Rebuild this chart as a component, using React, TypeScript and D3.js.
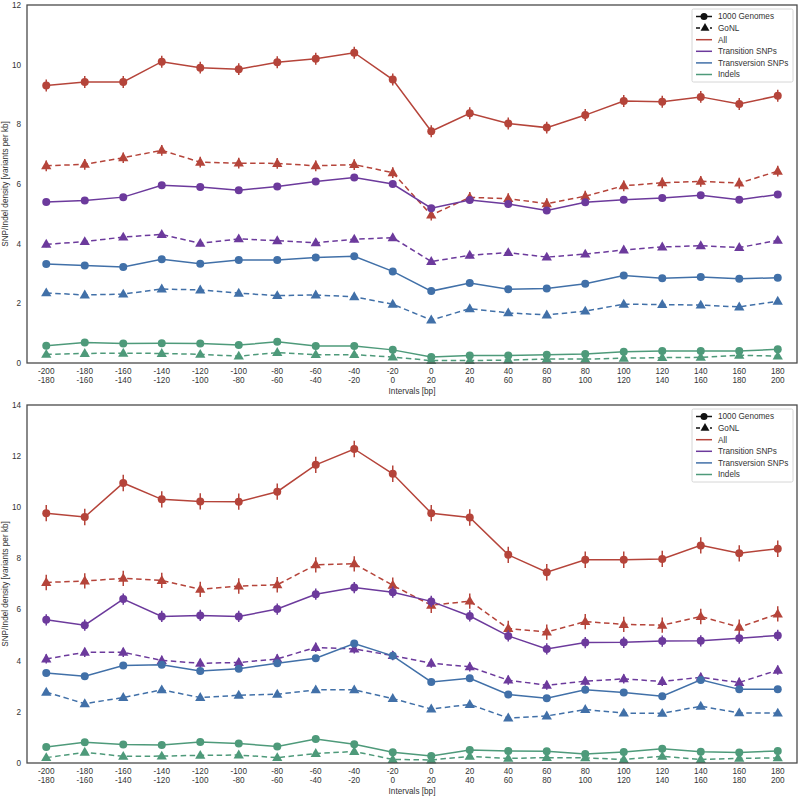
import React from "react";
import * as d3 from "d3";

const intervalStarts = [-200, -180, -160, -140, -120, -100, -80, -60, -40, -20, 0, 20, 40, 60, 80, 100, 120, 140, 160, 180];
const tickLine1 = intervalStarts.map(String);
const tickLine2 = intervalStarts.map((s) => String(s + 20));

const seriesNames = ["All", "Transition SNPs", "Transversion SNPs", "Indels"];
const seriesColors = ["#b5443a", "#6c3a9c", "#4170a8", "#4e9a7a"];

// Top panel
const topAll1kg = [9.3, 9.42, 9.42, 10.1, 9.9, 9.85, 10.08, 10.2, 10.4, 9.5, 7.77, 8.37, 8.03, 7.89, 8.31, 8.78, 8.76, 8.92, 8.68, 8.96];
const topAllGonl = [6.61, 6.66, 6.88, 7.13, 6.73, 6.7, 6.69, 6.61, 6.65, 6.38, 4.96, 5.55, 5.51, 5.34, 5.59, 5.94, 6.04, 6.09, 6.03, 6.43];
const topTs1kg = [5.4, 5.45, 5.56, 5.96, 5.9, 5.79, 5.92, 6.08, 6.22, 6.0, 5.19, 5.46, 5.33, 5.11, 5.39, 5.47, 5.53, 5.62, 5.47, 5.65];
const topTsGonl = [3.98, 4.07, 4.22, 4.31, 4.01, 4.16, 4.1, 4.03, 4.15, 4.2, 3.4, 3.61, 3.7, 3.55, 3.65, 3.79, 3.89, 3.93, 3.87, 4.11];
const topTv1kg = [3.32, 3.27, 3.22, 3.48, 3.33, 3.45, 3.45, 3.54, 3.58, 3.07, 2.41, 2.68, 2.47, 2.5, 2.66, 2.93, 2.84, 2.88, 2.82, 2.86];
const topTvGonl = [2.35, 2.28, 2.31, 2.48, 2.45, 2.34, 2.26, 2.28, 2.22, 1.97, 1.44, 1.82, 1.68, 1.61, 1.74, 1.97, 1.96, 1.94, 1.88, 2.07];
const topIndel1kg = [0.58, 0.69, 0.65, 0.66, 0.65, 0.6, 0.71, 0.57, 0.57, 0.44, 0.2, 0.25, 0.25, 0.28, 0.3, 0.38, 0.4, 0.4, 0.4, 0.46];
const topIndelGonl = [0.29, 0.32, 0.33, 0.32, 0.29, 0.23, 0.35, 0.28, 0.28, 0.2, 0.08, 0.08, 0.1, 0.13, 0.13, 0.16, 0.18, 0.19, 0.26, 0.23];
const topErr1kg = [0.2, 0.1, 0.07, 0.04];
const topErrGonl = [0.18, 0.1, 0.07, 0.04];

// Bottom panel
const botAll1kg = [9.77, 9.62, 10.95, 10.31, 10.23, 10.22, 10.61, 11.66, 12.28, 11.31, 9.77, 9.6, 8.14, 7.46, 7.95, 7.95, 7.98, 8.51, 8.2, 8.38];
const botAllGonl = [7.06, 7.12, 7.22, 7.14, 6.79, 6.92, 6.97, 7.75, 7.79, 6.95, 6.17, 6.33, 5.26, 5.12, 5.53, 5.42, 5.39, 5.73, 5.31, 5.83];
const botTs1kg = [5.6, 5.39, 6.41, 5.73, 5.77, 5.73, 6.02, 6.6, 6.86, 6.68, 6.32, 5.75, 4.97, 4.46, 4.71, 4.72, 4.77, 4.78, 4.88, 4.99];
const botTsGonl = [4.07, 4.33, 4.33, 4.01, 3.9, 3.93, 4.07, 4.52, 4.46, 4.2, 3.9, 3.76, 3.24, 3.04, 3.2, 3.29, 3.19, 3.35, 3.15, 3.63];
const botTv1kg = [3.52, 3.39, 3.81, 3.84, 3.6, 3.69, 3.9, 4.1, 4.67, 4.19, 3.17, 3.31, 2.68, 2.53, 2.86, 2.76, 2.61, 3.25, 2.88, 2.88];
const botTvGonl = [2.77, 2.32, 2.56, 2.86, 2.56, 2.65, 2.69, 2.86, 2.86, 2.52, 2.11, 2.29, 1.76, 1.84, 2.09, 1.95, 1.94, 2.22, 1.96, 1.95];
const botIndel1kg = [0.63, 0.81, 0.72, 0.7, 0.82, 0.76, 0.65, 0.94, 0.73, 0.42, 0.27, 0.51, 0.47, 0.46, 0.35, 0.43, 0.56, 0.44, 0.41, 0.47];
const botIndelGonl = [0.21, 0.42, 0.26, 0.27, 0.3, 0.31, 0.21, 0.37, 0.45, 0.14, 0.12, 0.26, 0.18, 0.21, 0.2, 0.14, 0.26, 0.14, 0.18, 0.2];
const botErr1kg = [0.32, 0.22, 0.12, 0.06];
const botErrGonl = [0.3, 0.18, 0.1, 0.05];

const topYTicks = [0, 2, 4, 6, 8, 10, 12];
const botYTicks = [0, 2, 4, 6, 8, 10, 12, 14];

const FONT = "'Liberation Sans', Arial, sans-serif";
const TEXT_COLOR = "#333";
const FS = 8.2;

type PanelProps = {
  top: number;
  bottom: number;
  yMax: number;
  yTicks: number[];
  kg: number[][];
  gonl: number[][];
  err1: number[];
  err2: number[];
};

const LEFT = 27;
const RIGHT = 797;

function Panel({ top, bottom, yMax, yTicks, kg, gonl, err1, err2 }: PanelProps) {
  const x = d3.scalePoint<number>().domain(intervalStarts.map((_, i) => i)).range([LEFT, RIGHT]).padding(0.5);
  const y = d3.scaleLinear().domain([0, yMax]).range([bottom, top]);
  const line = d3
    .line<number>()
    .x((_, i) => x(i) as number)
    .y((d) => y(d));
  const tri = d3.symbol(d3.symbolTriangle, 46)() as string;

  const renderSeries = (vals: number[], ci: number, dashed: boolean, err: number) => {
    const c = seriesColors[ci];
    return (
      <g key={`${ci}-${dashed}`}>
        <path d={line(vals) as string} fill="none" stroke={c} strokeWidth={1.5} strokeDasharray={dashed ? "5.5,3.5" : undefined} />
        {vals.map((v, i) => (
          <line key={`e${i}`} x1={x(i)} x2={x(i)} y1={y(v - err)} y2={y(v + err)} stroke={c} strokeWidth={1.5} />
        ))}
        {vals.map((v, i) =>
          dashed ? (
            <path key={`m${i}`} d={tri} transform={`translate(${x(i)},${y(v) + 0.5})`} fill={c} />
          ) : (
            <circle key={`m${i}`} cx={x(i)} cy={y(v)} r={4} fill={c} />
          )
        )}
      </g>
    );
  };

  const legendItems = ["1000 Genomes", "GoNL", ...seriesNames];
  const lx = 692;
  const ly = top + 4;

  return (
    <g>
      {yTicks.map((t) => (
        <text key={t} x={21} y={y(t)} dy="0.35em" textAnchor="end" fontSize={FS} fill={TEXT_COLOR} fontFamily={FONT}>
          {t}
        </text>
      ))}
      <text
        transform={`translate(8,${(top + bottom) / 2}) rotate(-90)`}
        textAnchor="middle"
        fontSize={FS}
        fill={TEXT_COLOR}
        fontFamily={FONT}
      >
        SNP/Indel density [variants per kb]
      </text>
      {intervalStarts.map((_, i) => (
        <g key={i}>
          <text x={x(i)} y={bottom + 10.8} textAnchor="middle" fontSize={FS} fill={TEXT_COLOR} fontFamily={FONT}>
            {tickLine1[i]}
          </text>
          <text x={x(i)} y={bottom + 20} textAnchor="middle" fontSize={FS} fill={TEXT_COLOR} fontFamily={FONT}>
            {tickLine2[i]}
          </text>
        </g>
      ))}
      <text x={(LEFT + RIGHT) / 2} y={bottom + 30.5} textAnchor="middle" fontSize={FS} fill={TEXT_COLOR} fontFamily={FONT}>
        Intervals [bp]
      </text>
      {kg.map((vals, ci) => (
        <g key={ci}>
          {renderSeries(vals, ci, false, err1[ci])}
          {renderSeries(gonl[ci], ci, true, err2[ci])}
        </g>
      ))}
      <rect x={LEFT} y={top} width={RIGHT - LEFT} height={bottom - top} fill="none" stroke="#4a4a4a" strokeWidth={1.3} />
      <rect x={lx} y={ly} width={101} height={73} fill="#fff" stroke="#cccccc" strokeWidth={0.8} rx={1.5} />
      {legendItems.map((name, i) => {
        const cy = ly + 7.5 + i * 11.6;
        const hx1 = lx + 4;
        const hx2 = lx + 20;
        let handle: React.ReactNode;
        if (i === 0) {
          handle = (
            <g>
              <line x1={hx1} x2={hx2} y1={cy} y2={cy} stroke="#111" strokeWidth={1.5} />
              <circle cx={(hx1 + hx2) / 2} cy={cy} r={3.5} fill="#111" />
            </g>
          );
        } else if (i === 1) {
          handle = (
            <g>
              <line x1={hx1} x2={hx2} y1={cy} y2={cy} stroke="#111" strokeWidth={1.5} strokeDasharray="4,3" />
              <path d={d3.symbol(d3.symbolTriangle, 34)() as string} transform={`translate(${(hx1 + hx2) / 2 + 1},${cy})`} fill="#111" />
            </g>
          );
        } else {
          handle = <line x1={hx1} x2={hx2} y1={cy} y2={cy} stroke={seriesColors[i - 2]} strokeWidth={1.5} />;
        }
        return (
          <g key={name}>
            {handle}
            <text x={lx + 26} y={cy} dy="0.35em" fontSize={FS} fill={TEXT_COLOR} fontFamily={FONT}>
              {name}
            </text>
          </g>
        );
      })}
    </g>
  );
}

export default function App() {
  return (
    <svg width={800} height={797} style={{ position: "absolute", left: 0, top: 0, background: "#fff" }}>
      <rect width={800} height={797} fill="#fff" />
      <Panel
        top={5}
        bottom={363}
        yMax={12}
        yTicks={topYTicks}
        kg={[topAll1kg, topTs1kg, topTv1kg, topIndel1kg]}
        gonl={[topAllGonl, topTsGonl, topTvGonl, topIndelGonl]}
        err1={topErr1kg}
        err2={topErrGonl}
      />
      <Panel
        top={405}
        bottom={763}
        yMax={14}
        yTicks={botYTicks}
        kg={[botAll1kg, botTs1kg, botTv1kg, botIndel1kg]}
        gonl={[botAllGonl, botTsGonl, botTvGonl, botIndelGonl]}
        err1={botErr1kg}
        err2={botErrGonl}
      />
    </svg>
  );
}
